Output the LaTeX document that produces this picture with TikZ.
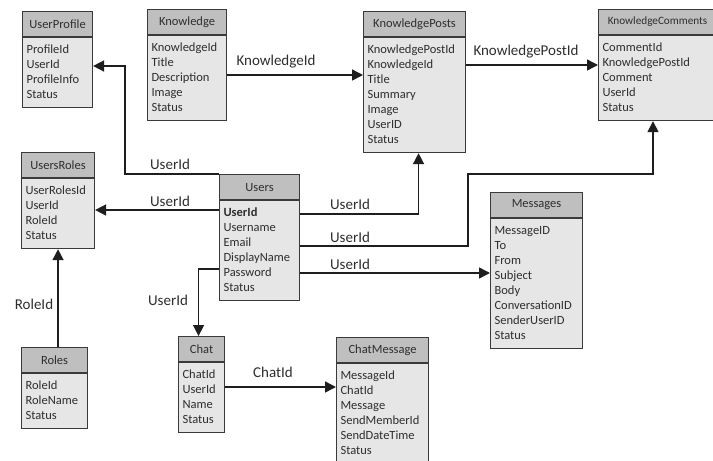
\documentclass[tikz,border=0pt]{standalone}
\usepackage{fontspec}
\setmainfont{Carlito}
\usetikzlibrary{arrows.meta,calc}
\definecolor{hdrfill}{HTML}{BFBFBF}
\definecolor{bodyfill}{HTML}{E6E6E6}
\definecolor{edgec}{HTML}{3A3A3A}
\definecolor{ink}{HTML}{2E2E2E}
\definecolor{linec}{HTML}{1E1E1E}
\newcommand\ls{\rule[-4.5pt]{0pt}{15pt}}
% name, x, y, width, text width, title, fields
\newcommand\erbox[7]{%
  \node[hdr, minimum width=#4pt] (#1-h) at (#2,#3) {#6};
  \node[tbody, text width=#5pt] (#1) at (#1-h.south west) {#7};}
\begin{document}
\begin{tikzpicture}[x=1pt,y=-1pt,
  hdr/.style={draw=edgec, line width=1.1pt, fill=hdrfill, anchor=north west,
    minimum height=25pt, inner sep=0pt, font=\fontsize{12.5}{15}\selectfont, text=ink},
  tbody/.style={draw=edgec, line width=1.1pt, fill=bodyfill, anchor=north west,
    inner xsep=4pt, inner ysep=5pt, align=left, font=\fontsize{12.5}{15}\selectfont,
    text=ink, execute at begin node=\ls, execute at end node=\ls},
  conn/.style={draw=linec, line width=1.5pt, -{Triangle[length=11pt,width=11pt]}},
  lbl/.style={font=\fontsize{15}{18}\selectfont, text=ink, inner sep=0pt}]
\useasboundingbox (0,0) rectangle (713,461);
\fill[white] (0,0) rectangle (713,461);
\begin{scope}
\clip (0,0) rectangle (713,461);
\erbox{up}{22}{11}{70}{62}{UserProfile}{ProfileId\\UserId\\ProfileInfo\\Status}
\erbox{know}{147}{9}{79}{71}{Knowledge}{KnowledgeId\\Title\\Description\\Image\\Status}
\erbox{kp}{363}{11}{102}{94}{KnowledgePosts}{KnowledgePostId\\KnowledgeId\\Title\\Summary\\Image\\UserID\\Status}
\erbox{kc}{598}{9}{118}{110}{\fontsize{11.2}{15}\selectfont KnowledgeComments}{CommentId\\KnowledgePostId\\Comment\\UserId\\Status}
\erbox{ur}{21}{152}{73}{65}{UsersRoles}{UserRolesId\\UserId\\RoleId\\Status}
\erbox{users}{219}{174}{80}{72}{Users}{\textbf{UserId}\\Username\\Email\\DisplayName\\Password\\Status}
\erbox{msg}{490}{192}{92}{84}{Messages}{MessageID\\To\\From\\Subject\\Body\\ConversationID\\SenderUserID\\Status}
\erbox{roles}{21}{347}{66}{58}{Roles}{RoleId\\RoleName\\Status}
\erbox{chat}{178}{336}{46}{38}{Chat}{ChatId\\UserId\\Name\\Status}
\erbox{cm}{336}{337}{92}{84}{ChatMessage}{MessageId\\ChatId\\Message\\SendMemberId\\SendDateTime\\Status}

% connectors
\draw[conn] (know.east |- 0,75) -- (kp.west |- 0,75);
\draw[conn] (kp.east |- 0,65) -- (kc.west |- 0,65);
\draw[conn] (users-h.north west) -- (125,174) |- (up.east |- 0,66);
\draw[conn] (users.west |- 0,210) -- (ur.east |- 0,210);
\draw[conn] (ur.south |- roles-h.north) -- (ur.south);
\draw[conn] (users.east |- 0,214) -| ([xshift=4pt]kp.south);
\draw[conn] (users.east |- 0,246) -- (468,246) |- (653,174) -- ([xshift=55pt]kc.south west);
\draw[conn] (users.east |- 0,273) -- (msg.west |- 0,273);
\draw[conn] (users.west |- 0,269) -| ([xshift=-3pt]chat-h.north);
\draw[conn] (chat.east |- 0,387) -- (cm.west |- 0,387);

% labels
\node[lbl] (l1) at (276,62) {KnowledgeId};
\node[lbl] (l2) at (526,52) {KnowledgePostId};
\node[lbl] (l3) at (170,164) {UserId};
\node[lbl] (l4) at (170,201) {UserId};
\node[lbl] (l5) at (34,304) {RoleId};
\node[lbl] (l6) at (168,300) {UserId};
\node[lbl] (l7) at (350,204) {UserId};
\node[lbl] (l8) at (350,237) {UserId};
\node[lbl] (l9) at (350,264) {UserId};
\node[lbl] (l10) at (273,372) {ChatId};
\end{scope}
\end{tikzpicture}
\end{document}
